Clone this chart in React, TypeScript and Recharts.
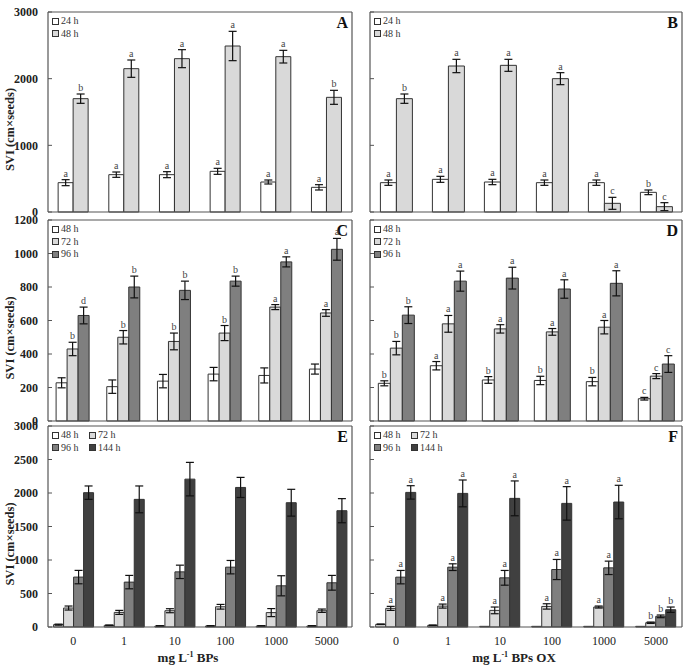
import {
  BarChart,
  Bar,
  XAxis,
  YAxis,
  ErrorBar,
  LabelList,
  Legend,
} from "recharts";

// doses on the x axis (mg L-1)
const DOSES = ["0", "1", "10", "100", "1000", "5000"];

// A: BPs, 24 h / 48 h
const A_24 = [440, 560, 560, 610, 450, 370];
const A_24_ERR = [45, 40, 45, 45, 30, 40];
const A_24_SIG = ["a", "a", "a", "a", "a", "a"];
const A_48 = [1700, 2150, 2300, 2490, 2330, 1720];
const A_48_ERR = [70, 130, 135, 220, 95, 105];
const A_48_SIG = ["b", "a", "a", "a", "a", "b"];

// B: BPs OX, 24 h / 48 h
const B_24 = [440, 490, 450, 440, 440, 295];
const B_24_ERR = [40, 45, 40, 40, 40, 35];
const B_24_SIG = ["a", "a", "a", "a", "a", "b"];
const B_48 = [1700, 2190, 2200, 2000, 130, 80];
const B_48_ERR = [70, 100, 90, 90, 90, 60];
const B_48_SIG = ["b", "a", "a", "a", "c", "c"];

// C: BPs, 48 / 72 / 96 h
const C_48 = [228, 205, 238, 280, 272, 310];
const C_48_ERR = [30, 40, 40, 40, 45, 30];
const C_72 = [430, 500, 475, 525, 680, 645];
const C_72_ERR = [40, 40, 50, 45, 15, 20];
const C_72_SIG = ["b", "b", "b", "b", "a", "a"];
const C_96 = [630, 800, 780, 835, 950, 1025];
const C_96_ERR = [50, 65, 55, 30, 30, 65];
const C_96_SIG = ["d", "b", "b", "b", "a", "a"];

// D: BPs OX, 48 / 72 / 96 h
const D_48 = [225, 330, 245, 242, 235, 133];
const D_48_ERR = [15, 25, 20, 25, 25, 8];
const D_48_SIG = ["b", "a", "b", "b", "b", "c"];
const D_72 = [435, 580, 550, 532, 560, 268];
const D_72_ERR = [40, 50, 25, 20, 40, 15];
const D_72_SIG = ["b", "a", "a", "a", "a", "c"];
const D_96 = [632, 835, 853, 788, 822, 340];
const D_96_ERR = [50, 60, 65, 55, 75, 50];
const D_96_SIG = ["b", "a", "a", "a", "a", "c"];

// E: BPs, 48 / 72 / 96 / 144 h
const E_48 = [35, 25, 15, 15, 15, 15];
const E_48_ERR = [8, 5, 5, 5, 5, 5];
const E_72 = [283, 218, 243, 302, 215, 243];
const E_72_ERR = [30, 30, 30, 35, 60, 25];
const E_96 = [745, 670, 823, 893, 615, 660];
const E_96_ERR = [100, 100, 100, 100, 150, 110];
const E_144 = [2005, 1905, 2207, 2083, 1855, 1736];
const E_144_ERR = [100, 200, 250, 150, 200, 180];

// F: BPs OX, 48 / 72 / 96 / 144 h
const F_48 = [40, 25, 10, 10, 10, 10];
const F_48_ERR = [5, 5, 0, 0, 0, 0];
const F_72 = [278, 312, 248, 307, 298, 64];
const F_72_ERR = [30, 30, 50, 40, 15, 10];
const F_72_SIG = ["a", "a", "a", "a", "a", "b"];
const F_96 = [744, 893, 734, 858, 883, 159];
const F_96_ERR = [100, 50, 110, 150, 100, 20];
const F_96_SIG = ["a", "a", "a", "a", "a", "b"];
const F_144 = [2009, 1994, 1920, 1845, 1865, 258];
const F_144_ERR = [100, 200, 260, 250, 250, 40];
const F_144_SIG = ["a", "a", "a", "a", "a", "b"];

const TICKS_3000_COARSE = [0, 1000, 2000, 3000];
const TICKS_1200 = [0, 200, 400, 600, 800, 1000, 1200];
const TICKS_3000_FINE = [0, 500, 1000, 1500, 2000, 2500, 3000];

const SERIF = "'Liberation Serif', 'Times New Roman', serif";
const FRAME = "#555";
const WHITE = "#ffffff";
const LIGHT = "#d9d9d9";
const MID = "#7f7f7f";
const DARK = "#404040";

interface Series {
  key: string;
  label: string;
  fill: string;
  values: number[];
  errors: number[];
  letters?: string[];
}

interface PanelCfg {
  letter: string;
  series: Series[];
  yMax: number;
  yTicks: number[];
  left: number;
  top: number;
  width: number;
  height: number;
  marginTop: number;
  marginRight: number;
  marginBottom: number;
  yAxisWidth: number;
  yLabels: boolean;
  xHeight: number;
  xTitle?: string;
  gap: string;
  legendCols: number;
}

function buildRows(series: Series[]) {
  return DOSES.map((dose, i) => {
    const row: Record<string, number | string> = { dose };
    series.forEach((s) => {
      row[s.key] = s.values[i];
      row[s.key + "Err"] = s.errors[i];
    });
    return row;
  });
}

function YTick(props: any) {
  const { x, y, payload, showText } = props;
  return (
    <g>
      <line x1={x + 10} x2={x + 14} y1={y} y2={y} stroke={FRAME} />
      {showText && (
        <text
          x={x}
          y={y}
          dy="0.35em"
          textAnchor="end"
          fontFamily={SERIF}
          fontSize={12}
          fontWeight="bold"
          fill="#222"
        >
          {payload.value}
        </text>
      )}
    </g>
  );
}

function sigLabel(s: Series) {
  return (props: any) => {
    const vb = props.viewBox ?? props;
    const i = props.index;
    const txt = s.letters?.[i];
    if (!txt || vb == null) return null;
    const v = s.values[i];
    const errPx = v ? (s.errors[i] / v) * vb.height : 0;
    return (
      <text
        x={vb.x + vb.width / 2}
        y={vb.y - errPx - 3}
        textAnchor="middle"
        fontFamily={SERIF}
        fontSize={10}
        fill="#444"
      >
        {txt}
      </text>
    );
  };
}

function Panel({ cfg }: { cfg: PanelCfg }) {
  const rows = buildRows(cfg.series);
  const plotH = cfg.height - cfg.marginTop - cfg.marginBottom - cfg.xHeight;

  return (
    <div style={{ position: "absolute", left: cfg.left, top: cfg.top, width: cfg.width, height: cfg.height }}>
      <BarChart
        width={cfg.width}
        height={cfg.height}
        data={rows}
        margin={{ top: cfg.marginTop, right: cfg.marginRight, bottom: cfg.marginBottom, left: 0 }}
        barCategoryGap={cfg.gap}
        barGap={0}
      >
        <XAxis
          dataKey="dose"
          height={cfg.xHeight}
          tickSize={0}
          tickMargin={9}
          tickLine={false}
          axisLine={{ stroke: FRAME, strokeWidth: 1.2 }}
          tick={cfg.xTitle ? { fontFamily: SERIF, fontSize: 12, fill: "#222" } : false}
          label={
            cfg.xTitle
              ? {
                  content: (p: any) => {
                    const vb = p.viewBox;
                    return (
                      <text
                        x={vb.x + vb.width / 2 - 12}
                        y={vb.y + 35}
                        textAnchor="middle"
                        fontFamily={SERIF}
                        fontSize={13}
                        fontWeight="bold"
                        fill="#222"
                      >
                        mg L
                        <tspan dy={-5} fontSize={8}>-1</tspan>
                        <tspan dy={5}> {cfg.xTitle}</tspan>
                      </text>
                    );
                  },
                }
              : undefined
          }
        />
        <XAxis
          xAxisId="top"
          dataKey="dose"
          orientation="top"
          height={1}
          tick={false}
          tickLine={false}
          axisLine={{ stroke: FRAME, strokeWidth: 1.2 }}
        />
        <YAxis
          domain={[0, cfg.yMax]}
          ticks={cfg.yTicks}
          interval={0}
          width={cfg.yAxisWidth}
          tickSize={0}
          tickMargin={10}
          tickLine={false}
          axisLine={{ stroke: FRAME, strokeWidth: 1.2 }}
          tick={(p: any) => <YTick {...p} showText={cfg.yLabels} />}
          label={
            cfg.yLabels
              ? {
                  content: (p: any) => {
                    const vb = p.viewBox;
                    const cy = vb.y + plotH / 2 + 17;
                    return (
                      <text
                        x={14}
                        y={cy}
                        transform={`rotate(-90 14 ${cy})`}
                        textAnchor="middle"
                        fontFamily={SERIF}
                        fontSize={12.5}
                        fontWeight="bold"
                        fill="#222"
                      >
                        SVI (cm×seeds)
                      </text>
                    );
                  },
                }
              : undefined
          }
        />
        <YAxis
          yAxisId="right"
          orientation="right"
          width={1}
          domain={[0, cfg.yMax]}
          tick={false}
          tickLine={false}
          axisLine={{ stroke: FRAME, strokeWidth: 1.2 }}
          label={{
            value: cfg.letter,
            position: "insideTopRight",
            offset: 5,
            fontFamily: SERIF,
            fontSize: 16,
            fontWeight: "bold",
            fill: "#111",
          }}
        />
        <Legend
          layout="horizontal"
          verticalAlign="middle"
          align="center"
          wrapperStyle={{ left: cfg.yAxisWidth + 4, top: cfg.marginTop + 4, width: "auto", height: "auto" }}
          content={() => (
            <div
              style={{
                display: "grid",
                gridTemplateColumns: `repeat(${cfg.legendCols}, 37px)`,
                fontFamily: SERIF,
                fontSize: 10,
                lineHeight: "12.5px",
                color: "#333",
              }}
            >
              {cfg.series.map((s) => (
                <div key={s.key} style={{ display: "flex", alignItems: "center", whiteSpace: "nowrap" }}>
                  <span
                    style={{
                      display: "inline-block",
                      width: 5,
                      height: 5,
                      border: "1px solid #333",
                      background: s.fill,
                      marginRight: 2,
                    }}
                  />
                  {s.label}
                </div>
              ))}
            </div>
          )}
        />
        {cfg.series.map((s) => (
          <Bar key={s.key} dataKey={s.key} fill={s.fill} stroke="#333" strokeWidth={1} isAnimationActive={false}>
            <ErrorBar dataKey={s.key + "Err"} width={4} stroke="#111" strokeWidth={1.2} direction="y" />
            {s.letters && <LabelList dataKey={s.key} content={sigLabel(s)} />}
          </Bar>
        ))}
      </BarChart>
    </div>
  );
}

const LEFT_COL = { left: 0, width: 356, yAxisWidth: 48, marginRight: 3, yLabels: true };
const RIGHT_COL = { left: 352, width: 333, yAxisWidth: 18, marginRight: 2, yLabels: false };
const ROW1 = { top: 0, height: 222, marginTop: 11, marginBottom: 9, xHeight: 1 };
const ROW2 = { top: 209, height: 222, marginTop: 10, marginBottom: 9, xHeight: 1 };
const ROW3 = { top: 415, height: 254, marginTop: 10, marginBottom: 0, xHeight: 42 };

const PANELS: PanelCfg[] = [
  {
    letter: "A",
    ...LEFT_COL,
    ...ROW1,
    yMax: 3000,
    yTicks: TICKS_3000_COARSE,
    gap: "20%",
    legendCols: 1,
    series: [
      { key: "h24", label: "24 h", fill: WHITE, values: A_24, errors: A_24_ERR, letters: A_24_SIG },
      { key: "h48", label: "48 h", fill: LIGHT, values: A_48, errors: A_48_ERR, letters: A_48_SIG },
    ],
  },
  {
    letter: "B",
    ...RIGHT_COL,
    ...ROW1,
    yMax: 3000,
    yTicks: TICKS_3000_COARSE,
    gap: "20%",
    legendCols: 1,
    series: [
      { key: "h24", label: "24 h", fill: WHITE, values: B_24, errors: B_24_ERR, letters: B_24_SIG },
      { key: "h48", label: "48 h", fill: LIGHT, values: B_48, errors: B_48_ERR, letters: B_48_SIG },
    ],
  },
  {
    letter: "C",
    ...LEFT_COL,
    ...ROW2,
    yMax: 1200,
    yTicks: TICKS_1200,
    gap: "16%",
    legendCols: 1,
    series: [
      { key: "h48", label: "48 h", fill: WHITE, values: C_48, errors: C_48_ERR },
      { key: "h72", label: "72 h", fill: LIGHT, values: C_72, errors: C_72_ERR, letters: C_72_SIG },
      { key: "h96", label: "96 h", fill: MID, values: C_96, errors: C_96_ERR, letters: C_96_SIG },
    ],
  },
  {
    letter: "D",
    ...RIGHT_COL,
    ...ROW2,
    yMax: 1200,
    yTicks: TICKS_1200,
    gap: "16%",
    legendCols: 1,
    series: [
      { key: "h48", label: "48 h", fill: WHITE, values: D_48, errors: D_48_ERR, letters: D_48_SIG },
      { key: "h72", label: "72 h", fill: LIGHT, values: D_72, errors: D_72_ERR, letters: D_72_SIG },
      { key: "h96", label: "96 h", fill: MID, values: D_96, errors: D_96_ERR, letters: D_96_SIG },
    ],
  },
  {
    letter: "E",
    ...LEFT_COL,
    ...ROW3,
    yMax: 3000,
    yTicks: TICKS_3000_FINE,
    gap: "11%",
    legendCols: 2,
    xTitle: "BPs",
    series: [
      { key: "h48", label: "48 h", fill: WHITE, values: E_48, errors: E_48_ERR },
      { key: "h72", label: "72 h", fill: LIGHT, values: E_72, errors: E_72_ERR },
      { key: "h96", label: "96 h", fill: MID, values: E_96, errors: E_96_ERR },
      { key: "h144", label: "144 h", fill: DARK, values: E_144, errors: E_144_ERR },
    ],
  },
  {
    letter: "F",
    ...RIGHT_COL,
    ...ROW3,
    yMax: 3000,
    yTicks: TICKS_3000_FINE,
    gap: "11%",
    legendCols: 2,
    xTitle: "BPs OX",
    series: [
      { key: "h48", label: "48 h", fill: WHITE, values: F_48, errors: F_48_ERR },
      { key: "h72", label: "72 h", fill: LIGHT, values: F_72, errors: F_72_ERR, letters: F_72_SIG },
      { key: "h96", label: "96 h", fill: MID, values: F_96, errors: F_96_ERR, letters: F_96_SIG },
      { key: "h144", label: "144 h", fill: DARK, values: F_144, errors: F_144_ERR, letters: F_144_SIG },
    ],
  },
];

export default function App() {
  return (
    <div style={{ position: "absolute", left: 0, top: 0, width: 685, height: 669, background: "#fff" }}>
      {PANELS.map((p) => (
        <Panel key={p.letter} cfg={p} />
      ))}
    </div>
  );
}
